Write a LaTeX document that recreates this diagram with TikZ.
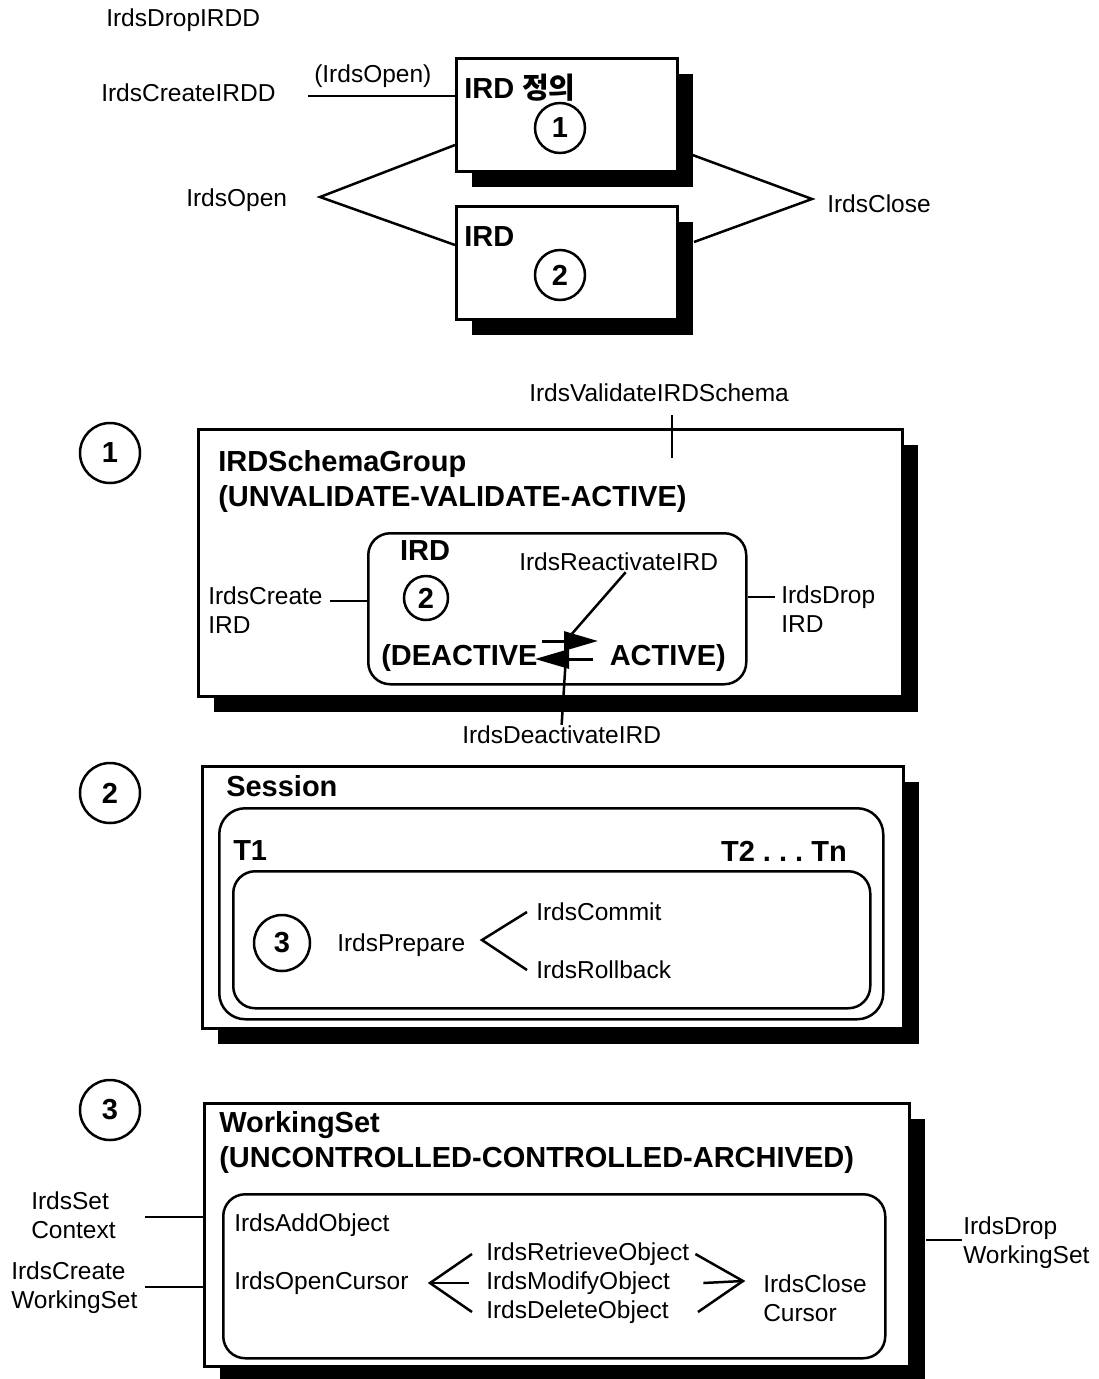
\documentclass[tikz,border=0pt]{standalone}
\usepackage{fontspec}
\setmainfont{Liberation Sans}
\newfontfamily\krfont{Noto Sans CJK KR}
\usepackage{tikz}
\usetikzlibrary{arrows.meta,shadows}
\newcommand{\lbfont}{\fontsize{24.5}{29}\selectfont}
\newcommand{\hdfont}{\fontsize{29}{35}\selectfont\bfseries}
\tikzstyle{Panel}=[rectangle, anchor=north west, inner sep=0, draw=black, line width=3pt, fill=white, drop shadow={shadow xshift=15pt, shadow yshift=-15pt, opacity=1, fill=black}]
\tikzstyle{Pill}=[rectangle, anchor=north west, inner sep=0, draw=black, line width=2.5pt, rounded corners=22pt]
\tikzstyle{Mark}=[circle, draw=black, line width=2.5pt, inner sep=0, font=\hdfont]
\tikzstyle{Label}=[font=\lbfont, inner sep=0, anchor=west]
\tikzstyle{Head}=[font=\hdfont, inner sep=0, anchor=west]
\tikzstyle{Flow}=[-{Triangle[length=34pt,width=19pt]}, line width=3pt]

\begin{document}
\begin{tikzpicture}[x=1pt, y=-1pt, line width=2.5pt]
    \useasboundingbox (0,0) rectangle (1099,1379);

    % IRD definition and IRD
    \path
    (105,20) node[Label] (dropirdd) {IrdsDropIRDD}
    (100,93) node[Label] (createirdd) {IrdsCreateIRDD}
    (313,76) node[Label] (openparen) {(IrdsOpen)}
    (455,57) node[Panel, minimum width=221, minimum height=113] (defbox) {}
    (455,205) node[Panel, minimum width=221, minimum height=113] (irdbox) {}
    (463,88) node[Head] (deftitle) {IRD {\krfont 정의}}
    (560,128) node[Mark, minimum size=50] (defno) {1}
    (463,237) node[Head] (irdtitle) {IRD}
    (560,275) node[Mark, minimum size=50] (irdno) {2}
    (185,200) node[Label] (openlbl) {IrdsOpen}
    (826,204) node[Label] (closelbl) {IrdsClose};
    \coordinate (openfoot) at (308,96);
    \coordinate (openfork) at (320,197);
    \coordinate (closefork) at (812,199);
    \draw (openfoot) -- (openfoot -| defbox.west);
    \draw (defbox.west |- 0,145) -- (openfork) -- (irdbox.west |- 0,245);
    \draw (defbox.east |- 0,150) -- (closefork) -- ([xshift=15pt]irdbox.east |- 0,242);

    % 1: schema group
    \path
    (110,453) node[Mark, minimum size=60] (markone) {1}
    (197,428) node[Panel, minimum width=704, minimum height=267] (schemabox) {}
    (528,393) node[Label] (validlbl) {IrdsValidateIRDSchema}
    (217,464) node[Head] (schematitle) {IRDSchemaGroup}
    (217,499) node[Head] (schemastate) {(UNVALIDATE-VALIDATE-ACTIVE)}
    (367,532) node[Pill, minimum width=378, minimum height=151] (irdpill) {}
    (425,551) node[Head, anchor=center] (irdname) {IRD}
    (426,598) node[Mark, minimum size=44] (irdmark) {2}
    (518,562) node[Label] (reactlbl) {IrdsReactivateIRD}
    (380,658) node[Head] (deactive) {(DEACTIVE}
    (727,658) node[Head, anchor=east] (active) {ACTIVE)}
    (207,610) node[Label, align=left] (createird) {IrdsCreate\\IRD}
    (780,609) node[Label, align=left] (dropird) {IrdsDrop\\IRD}
    (461,735) node[Label] (deactlbl) {IrdsDeactivateIRD};
    \coordinate (validtick) at (672,458);
    \coordinate (createfoot) at (330,601);
    \coordinate (dropfoot) at (775,597);
    \coordinate (fwdtail) at (542,641);
    \coordinate (fwdtip) at (598,641);
    \coordinate (backtail) at (593,659);
    \coordinate (backtip) at (535,659);
    \coordinate (reactend) at (570,636);
    \coordinate (deactend) at (567,640);
    \draw (validtick) -- ++(0,-43);
    \draw (createfoot) -- (createfoot -| irdpill.west);
    \draw (dropfoot) -- (dropfoot -| irdpill.east);
    \draw[Flow] (fwdtail) -- (fwdtip);
    \draw[Flow] (backtail) -- (backtip);
    \draw ([xshift=7pt]reactlbl.south) -- (reactend);
    \draw (deactlbl.north) -- (deactend);

    % 2: session
    \path
    (110,793) node[Mark, minimum size=60] (marktwo) {2}
    (201,765) node[Panel, minimum width=701, minimum height=262] (sessionbox) {}
    (225,786) node[Head] (sessiontitle) {Session}
    (218,807) node[Pill, rounded corners=26pt, minimum width=664, minimum height=211] (txpill) {}
    (232,851) node[Head] (tfirst) {T1}
    (848,851) node[Head, anchor=east] (tlast) {T2 .\ .\ .\ Tn}
    (232,870) node[Pill, minimum width=637, minimum height=137] (workpill) {}
    (282,943) node[Mark, minimum size=56] (workmark) {3}
    (336,945) node[Label] (prepare) {IrdsPrepare}
    (535,912) node[Label] (commit) {IrdsCommit}
    (535,970) node[Label] (rollback) {IrdsRollback};
    \coordinate (preparefork) at (482,940);
    \draw ([xshift=-8pt]commit.west) -- (preparefork) -- ([xshift=-8pt]rollback.west);

    % 3: working set
    \path
    (110,1110) node[Mark, minimum size=60] (markthree) {3}
    (203,1102) node[Panel, minimum width=705, minimum height=263] (wsbox) {}
    (218,1125) node[Head] (wstitle) {WorkingSet}
    (218,1160) node[Head] (wsstate) {(UNCONTROLLED-CONTROLLED-ARCHIVED)}
    (222,1193) node[Pill, minimum width=662, minimum height=164] (cursorpill) {}
    (30,1215) node[Label, align=left] (setctx) {IrdsSet\\Context}
    (10,1288) node[Label, align=left] (createws) {IrdsCreate\\WorkingSet}
    (962,1243) node[Label, align=left] (dropws) {IrdsDrop\\WorkingSet}
    (233,1225) node[Label] (addobj) {IrdsAddObject}
    (233,1283) node[Label] (opencur) {IrdsOpenCursor}
    (485,1254) node[Label] (retrieve) {IrdsRetrieveObject}
    (485,1283) node[Label] (modify) {IrdsModifyObject}
    (485,1312) node[Label] (delete) {IrdsDeleteObject}
    (762,1298) node[Label, align=left] (closecur) {IrdsClose\\Cursor};
    \coordinate (ctxfoot) at (145,1217);
    \coordinate (createfootws) at (145,1287);
    \coordinate (dropfootws) at (962,1240);
    \coordinate (openfork) at (430,1283);
    \coordinate (closefork) at (743,1281);
    \draw (ctxfoot) -- (ctxfoot -| wsbox.west);
    \draw (createfootws) -- (createfootws -| wsbox.west);
    \draw (dropfootws) -- ([xshift=15pt]dropfootws -| wsbox.east);
    \draw ([xshift=-13pt]retrieve.west) -- (openfork) -- ([xshift=-13pt]delete.west);
    \draw (openfork) -- ([xshift=-16pt]modify.west);
    \draw ([xshift=5pt]retrieve.east) -- (closefork) -- ([xshift=28pt]delete.east);
    \draw ([xshift=32pt]modify.east) -- (closefork);
\end{tikzpicture}
\end{document}
